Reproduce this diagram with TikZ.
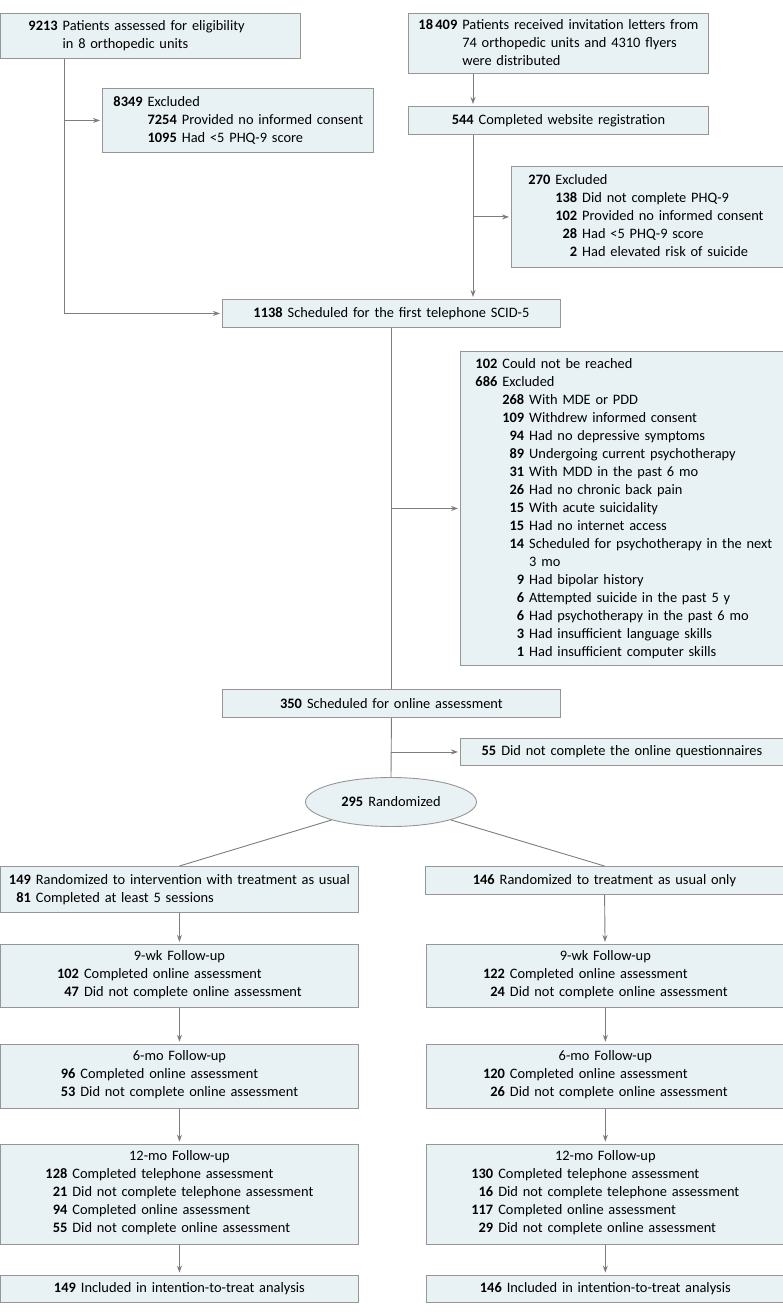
\documentclass[tikz,border=0pt]{standalone}
\usepackage{fontspec}
\setmainfont{Carlito}
\usetikzlibrary{positioning,calc,arrows.meta,shapes.geometric}

\definecolor{boxfill}{RGB}{232,242,244}
\definecolor{boxline}{RGB}{150,150,150}
\definecolor{linkgray}{RGB}{125,125,125}
\newcommand{\cnt}[1]{\textbf{#1}}

\tikzset{
  box/.style={draw=boxline, fill=boxfill, line width=0.9pt, inner sep=0pt,
    align=center, font=\fontsize{14.4}{18}\selectfont},
  lbox/.style={box, align=left},
  boxsize/.style 2 args={text width=#1, minimum height=#2},
  link/.style={draw=linkgray, line width=0.9pt},
  arr/.style={link, -{Stealth[length=7pt,width=5pt]}, shorten >=2pt},
}

\begin{document}
\begin{tikzpicture}[x=1pt,y=-1pt]
  \useasboundingbox (0,0) rectangle (783,1313);

  % screening: orthopedic units
  \node[lbox, boxsize={300pt}{45pt}, anchor=north west] (assess) at (0,13)
    {\hspace*{28pt}\begin{tabular}[t]{@{}r@{\hspace{5pt}}l@{}}
      \cnt{9213} & Patients assessed for eligibility\\
                 & in 8 orthopedic units
    \end{tabular}};
  \node[lbox, boxsize={271pt}{64pt}, anchor=north west] (excl1) at (102,88)
    {\hspace*{11pt}\begin{tabular}[t]{@{}r@{\hspace{5pt}}r@{\hspace{5pt}}l@{}}
      \cnt{8349} & \multicolumn{2}{@{}l@{}}{Excluded}\\
      & \cnt{7254} & Provided no informed consent\\
      & \cnt{1095} & Had <5 PHQ-9 score
    \end{tabular}};

  % screening: invitation letters
  \node[lbox, boxsize={300pt}{60pt}, anchor=north west] (invite) at (408,13)
    {\hspace*{10pt}\begin{tabular}[t]{@{}r@{\hspace{5pt}}l@{}}
      \cnt{18\,409} & Patients received invitation letters from\\
                    & 74 orthopedic units and 4310 flyers\\
                    & were distributed
    \end{tabular}};
  \node[box, boxsize={300pt}{28pt}, anchor=north west] (regist) at (408,106)
    {\cnt{544}\hspace{5pt}Completed website registration};
  \node[lbox, boxsize={272pt}{101pt}, anchor=north west] (excl2) at (511,166)
    {\hspace*{17pt}\begin{tabular}[t]{@{}r@{\hspace{5pt}}r@{\hspace{5pt}}l@{}}
      \cnt{270} & \multicolumn{2}{@{}l@{}}{Excluded}\\
      & \cnt{138} & Did not complete PHQ-9\\
      & \cnt{102} & Provided no informed consent\\
      & \cnt{28}  & Had <5 PHQ-9 score\\
      & \cnt{2}   & Had elevated risk of suicide
    \end{tabular}};

  % telephone interview
  \node[box, boxsize={338pt}{28pt}, anchor=north west] (sched) at (222,299)
    {\cnt{1138}\hspace{5pt}Scheduled for the first telephone SCID-5};
  \node[lbox, boxsize={323pt}{314pt}, anchor=north west] (excl3) at (460,351)
    {\hspace*{15pt}\begin{tabular}[t]{@{}r@{\hspace{5pt}}r@{\hspace{5pt}}l@{}}
      \cnt{102} & \multicolumn{2}{@{}l@{}}{Could not be reached}\\
      \cnt{686} & \multicolumn{2}{@{}l@{}}{Excluded}\\
      & \cnt{268} & With MDE or PDD\\
      & \cnt{109} & Withdrew informed consent\\
      & \cnt{94}  & Had no depressive symptoms\\
      & \cnt{89}  & Undergoing current psychotherapy\\
      & \cnt{31}  & With MDD in the past 6 mo\\
      & \cnt{26}  & Had no chronic back pain\\
      & \cnt{15}  & With acute suicidality\\
      & \cnt{15}  & Had no internet access\\
      & \cnt{14}  & Scheduled for psychotherapy in the next\\
      &           & 3 mo\\
      & \cnt{9}   & Had bipolar history\\
      & \cnt{6}   & Attempted suicide in the past 5 y\\
      & \cnt{6}   & Had psychotherapy in the past 6 mo\\
      & \cnt{3}   & Had insufficient language skills\\
      & \cnt{1}   & Had insufficient computer skills
    \end{tabular}};

  % online assessment and randomization
  \node[box, boxsize={338pt}{28pt}, anchor=north west] (online) at (222,689)
    {\cnt{350}\hspace{5pt}Scheduled for online assessment};
  \node[box, boxsize={323pt}{27pt}, anchor=north west] (quest) at (460,738)
    {\cnt{55}\hspace{5pt}Did not complete the online questionnaires};
  \node[box, ellipse, minimum width=171pt, minimum height=49pt] (rand) at (391,802)
    {\cnt{295}\hspace{5pt}Randomized};

  % intervention arm
  \node[box, boxsize={358pt}{46pt}, anchor=north west] (itv) at (0,866)
    {\begin{tabular}[t]{@{}r@{\hspace{5pt}}l@{}}
      \cnt{149} & Randomized to intervention with treatment as usual\\
      \cnt{81}  & Completed at least 5 sessions
    \end{tabular}};
  \node[box, boxsize={358pt}{63pt}, below=31pt of itv] (fu9)
    {9-wk Follow-up\\
     \begin{tabular}[t]{@{}r@{\hspace{5pt}}l@{}}
      \cnt{102} & Completed online assessment\\
      \cnt{47}  & Did not complete online assessment
    \end{tabular}};
  \node[box, boxsize={358pt}{64pt}, below=36pt of fu9] (fu6)
    {6-mo Follow-up\\
     \begin{tabular}[t]{@{}r@{\hspace{5pt}}l@{}}
      \cnt{96} & Completed online assessment\\
      \cnt{53} & Did not complete online assessment
    \end{tabular}};
  \node[box, boxsize={358pt}{100pt}, below=35pt of fu6] (fu12)
    {12-mo Follow-up\\
     \begin{tabular}[t]{@{}r@{\hspace{5pt}}l@{}}
      \cnt{128} & Completed telephone assessment\\
      \cnt{21}  & Did not complete telephone assessment\\
      \cnt{94}  & Completed online assessment\\
      \cnt{55}  & Did not complete online assessment
    \end{tabular}};
  \node[box, boxsize={358pt}{27pt}, below=30pt of fu12] (itt)
    {\cnt{149}\hspace{5pt}Included in intention-to-treat analysis};

  % treatment as usual arm
  \node[box, boxsize={358pt}{28pt}, anchor=north west] (tau) at (425,866)
    {\cnt{146}\hspace{5pt}Randomized to treatment as usual only};
  \node[box, boxsize={358pt}{63pt}, right=67pt of fu9] (rfu9)
    {9-wk Follow-up\\
     \begin{tabular}[t]{@{}r@{\hspace{5pt}}l@{}}
      \cnt{122} & Completed online assessment\\
      \cnt{24}  & Did not complete online assessment
    \end{tabular}};
  \node[box, boxsize={358pt}{64pt}, right=67pt of fu6] (rfu6)
    {6-mo Follow-up\\
     \begin{tabular}[t]{@{}r@{\hspace{5pt}}l@{}}
      \cnt{120} & Completed online assessment\\
      \cnt{26}  & Did not complete online assessment
    \end{tabular}};
  \node[box, boxsize={358pt}{100pt}, right=67pt of fu12] (rfu12)
    {12-mo Follow-up\\
     \begin{tabular}[t]{@{}r@{\hspace{5pt}}l@{}}
      \cnt{130} & Completed telephone assessment\\
      \cnt{16}  & Did not complete telephone assessment\\
      \cnt{117} & Completed online assessment\\
      \cnt{29}  & Did not complete online assessment
    \end{tabular}};
  \node[box, boxsize={358pt}{27pt}, right=67pt of itt] (ritt)
    {\cnt{146}\hspace{5pt}Included in intention-to-treat analysis};

  % connectors
  \coordinate (colA) at (64,0);
  \coordinate (colB) at (473,0);
  \draw[arr] (assess.south -| colA) |- (sched.west);
  \draw[arr] (excl1.west -| colA) -- (excl1.west);
  \draw[arr] (invite.south -| colB) -- (regist.north -| colB);
  \draw[arr] (regist.south -| colB) -- (sched.north -| colB);
  \draw[arr] (excl2.west -| colB) -- (excl2.west);
  \draw[link] (sched.south) -- (online.north);
  \draw[arr] (excl3.west -| sched.south) -- (excl3.west);
  \draw[link] (online.south) -- (rand.north);
  \draw[arr] (quest.west -| online.south) -- (quest.west);
  \draw[link] (rand) -- (itv.north);
  \draw[link] (rand) -- (tau.north);
  \foreach \a/\b in {itv/fu9, fu9/fu6, fu6/fu12, fu12/itt,
                     tau/rfu9, rfu9/rfu6, rfu6/rfu12, rfu12/ritt}
    \draw[arr] (\a) -- (\b);
\end{tikzpicture}
\end{document}
